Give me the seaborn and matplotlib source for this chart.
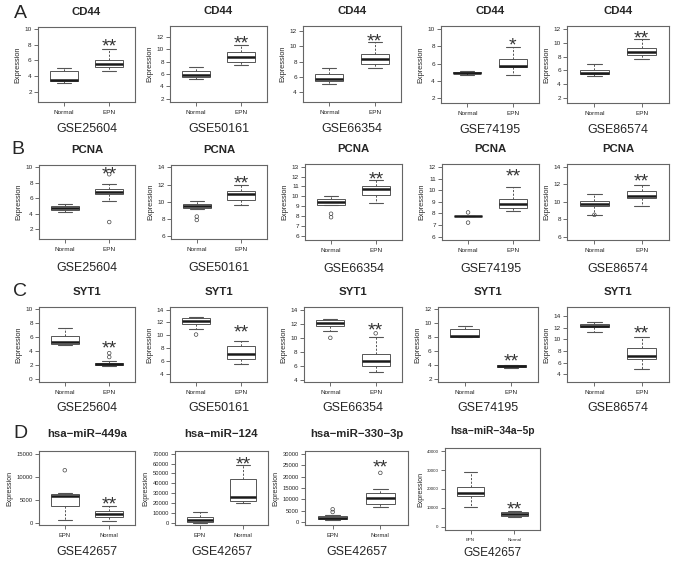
import numpy as np
import pandas as pd
import matplotlib.pyplot as plt
import matplotlib.transforms as mtransforms
import seaborn as sns

W, H = 677, 561

datasets = ['GSE25604', 'GSE50161', 'GSE66354', 'GSE74195', 'GSE86574']
genes = ['CD44', 'PCNA', 'SYT1']

# box summaries: whisker low, Q1, median, Q3, whisker high
cd44_normal = [[3.1, 3.3, 3.55, 4.65, 5.05], [5.2, 5.45, 5.8, 6.4, 7.15], [5.1, 5.4, 5.7, 6.4, 7.1],
               [4.7, 4.87, 4.95, 5.07, 5.2], [5.2, 5.4, 5.67, 6.1, 7.0]]
cd44_epn = [[4.7, 5.15, 5.6, 6.1, 7.45], [7.4, 7.95, 8.75, 9.5, 10.7], [7.1, 7.65, 8.3, 8.95, 10.5],
            [4.7, 5.63, 5.7, 6.55, 7.95], [7.6, 8.17, 8.7, 9.27, 10.56]]
pcna_normal = [[4.2, 4.5, 4.78, 5.0, 5.27], [9.2, 9.27, 9.54, 9.73, 10.15], [9.15, 9.17, 9.42, 9.72, 10.03],
               [7.8, 7.8, 7.8, 7.8, 7.8], [8.5, 9.46, 9.73, 10.04, 10.88]]
pcna_epn = [[5.6, 6.5, 6.8, 7.16, 7.8], [9.65, 10.23, 10.88, 11.27, 11.96], [9.33, 10.17, 10.74, 11.0, 11.7],
            [8.2, 8.5, 8.83, 9.23, 10.27], [9.54, 10.42, 10.7, 11.27, 11.96]]
syt1_normal = [[4.9, 5.05, 5.24, 6.19, 7.3], [10.98, 11.76, 12.18, 12.62, 12.8], [11.0, 11.76, 12.14, 12.62, 12.7],
               [8.0, 8.0, 8.1, 9.14, 9.52], [11.27, 12.08, 12.37, 12.66, 12.95]]
syt1_epn = [[1.8, 1.95, 2.14, 2.29, 2.52], [5.5, 6.34, 7.13, 8.38, 9.1], [5.1, 6.0, 6.76, 7.67, 10.2],
            [3.57, 3.71, 3.8, 3.95, 4.05], [4.87, 6.6, 7.16, 8.5, 10.5]]

# outliers
pcna_normal_out = [[], [8.3, 7.9], [8.25, 7.9], [8.08, 7.2], [8.5]]
pcna_epn_out = [[9.1, 2.9], [], [], [], []]
syt1_normal_out = [[], [10.1], [10.05], [], []]
syt1_epn_out = [[3.7, 3.14], [], [10.7], [], []]

mirnas = ['hsa\u2212miR\u2212449a', 'hsa\u2212miR\u2212124', 'hsa\u2212miR\u2212330\u22123p', 'hsa\u2212miR\u221234a\u22125p']
mir_dataset = 'GSE42657'
mir_epn = [[580, 3600, 5770, 6340, 6560], [0, 1000, 2700, 5400, 10400],
           [1000, 1460, 2050, 2800, 3070], [10300, 16400, 18100, 21300, 29000]]
mir_normal = [[430, 1150, 1870, 2600, 3600], [20200, 22200, 26300, 43800, 58900],
              [6900, 8050, 10500, 13000, 14400], [5300, 5900, 6600, 7650, 8400]]
mir_epn_out = [[11400], [], [5700, 4500], []]
mir_normal_out = [[], [], [21700], []]

# significance marks
gene_stars = [['**', '**', '**', '*', '**'], ['**'] * 5, ['**'] * 5]
gene_star_y = [[8.4, 11.6, 11.2, 8.6, 11.3], [9.7, 12.6, 12.2, 11.6, 12.8], [5.05, 11.14, 11.76, 5.2, 11.8]]
mir_star_y = [4900, 64000, 26100, 11500]

# axis ranges and ticks
gene_ylim = [[(0.66, 10.3), (1.5, 13.7), (2.7, 12.65), (1.43, 10.38), (1.23, 12.48)],
             [(0.7, 10.3), (5.7, 14.27), (5.6, 13.27), (5.7, 12.26), (5.6, 14.35)],
             [(-0.43, 10.3), (2.7, 14.4), (3.67, 14.5), (1.57, 12.3), (2.65, 15.6)]]
gene_yticks = [[[2, 4, 6, 8, 10], [2, 4, 6, 8, 10, 12], [4, 6, 8, 10, 12], [2, 4, 6, 8, 10], [2, 4, 6, 8, 10, 12]],
               [[2, 4, 6, 8, 10], [6, 8, 10, 12, 14], [6, 7, 8, 9, 10, 11, 12, 13], [6, 7, 8, 9, 10, 11, 12], [6, 8, 10, 12, 14]],
               [[0, 2, 4, 6, 8, 10], [4, 6, 8, 10, 12, 14], [4, 6, 8, 10, 12, 14], [2, 4, 6, 8, 10, 12], [4, 6, 8, 10, 12, 14]]]
mir_ylim = [(-500, 15580), (-2400, 72700), (-1200, 31300), (-1800, 41800)]
mir_yticks = [list(range(0, 15001, 5000)), list(range(0, 70001, 10000)),
              list(range(0, 30001, 5000)), list(range(0, 40001, 10000))]

# axes boxes in pixels: left, top, right, bottom
gene_boxes = [[(38, 27, 135, 102), (170, 26, 267, 102), (303, 26, 401, 102), (441, 26, 539, 103), (567, 26, 669, 103)],
              [(39, 165, 135, 239), (171, 165, 267, 239), (305, 164, 402, 240), (442, 164, 539, 240), (567, 164, 669, 240)],
              [(39, 307, 135, 382), (170, 307, 267, 382), (304, 307, 402, 382), (438, 307, 538, 382), (567, 307, 669, 382)]]
mir_boxes = [(39, 451, 135, 525), (175, 451, 268, 525), (305, 451, 408, 525), (445, 448, 540, 530)]

EDGE = '#555555'

sns.set_theme(style='ticks')
plt.rcParams['font.family'] = ['Liberation Sans', 'DejaVu Sans']


def add_px_axes(fig, box):
    l, t, r, b = box
    return fig.add_axes([l / W, 1 - b / H, (r - l) / W, (b - t) / H])


def draw_panel(ax, title, dataset, order, boxes, outs, star, star_y, ylim, yticks,
               tick_fs=4.6, lab_fs=5.3, title_pad=8.3, gse_off=27, small=False):
    df = pd.DataFrame({'group': [order[0]] * 5 + [order[1]] * 5,
                       'value': boxes[0] + boxes[1]})
    sns.boxplot(data=df, x='group', y='value', order=order, ax=ax, width=0.62,
                whis=(0, 100), showfliers=False, color='white', linecolor=EDGE,
                linewidth=0.7,
                medianprops={'color': '#1a1a1a', 'linewidth': 1.8},
                whiskerprops={'linestyle': (0, (2.2, 1.6)), 'color': EDGE, 'linewidth': 0.7},
                capprops={'color': EDGE, 'linewidth': 0.8})
    og, ov = [], []
    for g, vals in zip(order, outs):
        og += [g] * len(vals)
        ov += vals
    if ov:
        odf = pd.DataFrame({'group': og, 'value': ov})
        sns.stripplot(data=odf, x='group', y='value', order=order, ax=ax, jitter=False,
                      marker='o', size=2.6, facecolor='none', edgecolor='#444444',
                      linewidth=0.5)
    ax.set_xlim(-0.58, 1.58)
    ax.set_ylim(*ylim)
    ax.set_yticks(yticks)
    ax.set_yticklabels([str(t) for t in yticks])
    ax.set_xlabel('')
    ax.set_ylabel('Expression', fontsize=lab_fs, labelpad=2)
    ax.tick_params(axis='both', labelsize=tick_fs, length=3, width=0.6, color=EDGE, pad=1.5)
    ax.tick_params(axis='x', pad=3)
    for sp in ax.spines.values():
        sp.set_visible(True)
        sp.set_color('#666666')
        sp.set_linewidth(0.8)
    ax.set_title(title, fontsize=7.4 if small else 8.2, fontweight='bold', pad=title_pad)
    # asterisks sit high in their text box, so nudge them down a few pixels
    star_tr = mtransforms.offset_copy(ax.transData, fig=ax.figure, y=-5, units='dots')
    ax.text(1, star_y, star, ha='center', va='center', fontsize=14, color='#333333',
            transform=star_tr)
    h_px = ax.get_position().height * H
    ax.text(0.5, -gse_off / h_px, dataset, transform=ax.transAxes, ha='center',
            va='center', fontsize=9 if not small else 8.6)


fig = plt.figure(figsize=(W / 100, H / 100), dpi=100)

gene_normal = [cd44_normal, pcna_normal, syt1_normal]
gene_epn = [cd44_epn, pcna_epn, syt1_epn]
gene_normal_out = [[[]] * 5, pcna_normal_out, syt1_normal_out]
gene_epn_out = [[[]] * 5, pcna_epn_out, syt1_epn_out]
gse_offsets = [27, 29, 26]

for r, gene in enumerate(genes):
    for c, ds in enumerate(datasets):
        ax = add_px_axes(fig, gene_boxes[r][c])
        draw_panel(ax, gene, ds, ['Normal', 'EPN'],
                   [gene_normal[r][c], gene_epn[r][c]],
                   [gene_normal_out[r][c], gene_epn_out[r][c]],
                   gene_stars[r][c], gene_star_y[r][c],
                   gene_ylim[r][c], gene_yticks[r][c], gse_off=gse_offsets[r])

for c, mir in enumerate(mirnas):
    ax = add_px_axes(fig, mir_boxes[c])
    small = c == 3
    draw_panel(ax, mir, mir_dataset, ['EPN', 'Normal'],
               [mir_epn[c], mir_normal[c]], [mir_epn_out[c], mir_normal_out[c]],
               '**', mir_star_y[c], mir_ylim[c], mir_yticks[c],
               tick_fs=3.2 if small else 4.2, lab_fs=5.0, title_pad=10.4 if not small else 10.0,
               gse_off=23 if small else 27, small=small)

for letter, (x, y) in zip('ABCD', [(20, 13), (18, 150), (20, 292), (20, 433)]):
    fig.text(x / W, 1 - y / H, letter, fontsize=14, ha='center', va='center')

fig.savefig('out.png', dpi=100)
